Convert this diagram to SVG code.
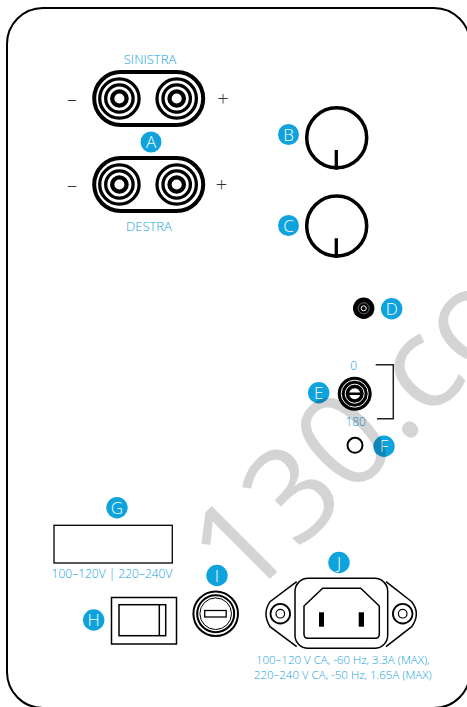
<svg xmlns="http://www.w3.org/2000/svg" width="467" height="707" viewBox="0 0 467 707">
<style>
text{font-family:"Open Sans","Noto Sans","Liberation Sans",sans-serif}
.lbl{fill:#14a2e2;font-size:12px;font-weight:300;text-anchor:middle}
.cap{font-size:13px}
.ac{font-size:11.500px}
.sign{fill:#333;font-size:20px;font-weight:300;text-anchor:middle}
.bd{fill:#0fa3de}
.bt{fill:#fff;font-size:17px;font-weight:300;text-anchor:middle}
.k{fill:none;stroke:#000}
</style>
<defs>
<g id="post">
<circle r="19.700" fill="#fff" stroke="#000" stroke-width="3.300"/>
<circle r="13.700" class="k" stroke-width="3.300"/>
<circle r="7.200" class="k" stroke-width="4.300"/>
</g>
<g id="pair">
<rect x="-54.500" y="-26.500" width="109" height="53" rx="26.500" fill="#fff" stroke="#000" stroke-width="4"/>
<use href="#post" x="-29.300"/>
<use href="#post" x="28"/>
</g>
<g id="knob">
<circle r="30" fill="#fff" stroke="#000" stroke-width="3.500"/>
<path d="M-.4 12.300V32" class="k" stroke-width="3.300"/>
</g>
</defs>
<rect id="frame" x="7" y="8" width="463" height="700" rx="36" fill="#fff" stroke="#000" stroke-width="2"/>
<g id="A">
<use href="#pair" x="148.700" y="98.500"/>
<use href="#pair" x="148.700" y="184.500"/>
<circle class="bd" cx="151" cy="142" r="10.500"/><text class="bt" x="151" y="148">A</text>
<text class="lbl cap" x="150" y="63.500">SINISTRA</text>
<text class="lbl cap" x="149" y="231">DESTRA</text>
<text class="sign" x="72" y="105.500">–</text><text class="sign" x="223" y="105.500">+</text>
<text class="sign" x="72" y="191.500">–</text><text class="sign" x="221.500" y="191.500">+</text>
</g>
<g id="B"><use href="#knob" x="336.700" y="137.700"/><circle class="bd" cx="288.500" cy="134.500" r="10.500"/><text class="bt" x="288.500" y="140.500">B</text></g>
<g id="C"><use href="#knob" x="336.700" y="226"/><circle class="bd" cx="288.500" cy="225.500" r="10.500"/><text class="bt" x="288.500" y="231.500">C</text></g>
<g id="D">
<circle cx="363.700" cy="308.300" r="10.700" fill="#000"/>
<circle cx="363.700" cy="308.300" r="5.500" fill="none" stroke="#999" stroke-width=".7"/>
<circle cx="363.700" cy="308.300" r="2.500" fill="#000" stroke="#fff" stroke-width="1"/>
<circle class="bd" cx="391.700" cy="308.700" r="10.700"/><text class="bt" x="391.700" y="314.700">D</text>
</g>
<g id="E">
<circle cx="354.700" cy="393.700" r="17" fill="#000"/>
<circle cx="354.700" cy="393.700" r="13.500" fill="none" stroke="#fff" stroke-width="1"/>
<circle cx="354.700" cy="393.700" r="9.500" fill="none" stroke="#fff" stroke-width="1"/>
<circle cx="354.700" cy="393.700" r="5.500" fill="#fff"/>
<rect x="349" y="392.500" width="11.400" height="2.500" fill="#000"/>
<circle class="bd" cx="318.700" cy="392.700" r="10.700"/><text class="bt" x="318.700" y="398.700">E</text>
<text class="lbl" x="353.700" y="370">0</text>
<text class="lbl" x="355.700" y="425.500">180</text>
<path d="M375.700 364.700H393.300V418.700H377" fill="none" stroke="#222" stroke-width="1.500"/>
</g>
<g id="F">
<circle cx="355" cy="445.300" r="7.500" fill="#fff" stroke="#000" stroke-width="2"/>
<circle class="bd" cx="384" cy="446.300" r="10.700"/><text class="bt" x="384" y="452.300">F</text>
</g>
<g id="G">
<rect x="54" y="525.300" width="118.300" height="37.700" fill="#fff" stroke="#000" stroke-width="1.300"/>
<circle class="bd" cx="117" cy="507.700" r="10.700"/><text class="bt" x="117" y="513.700">G</text>
<text class="lbl" x="112" y="578">100–120V | 220–240V</text>
</g>
<g id="H">
<rect x="111.500" y="597.500" width="65" height="46.500" fill="#fff" stroke="#000" stroke-width="1.500"/>
<rect x="119" y="604.700" width="46.700" height="31" fill="none" stroke="#000" stroke-width="1.500"/>
<path d="M159.300 604.700V635.700" class="k" stroke-width="1.500"/>
<circle class="bd" cx="93.700" cy="620" r="10.700"/><text class="bt" x="93.700" y="626">H</text>
</g>
<g id="I">
<circle cx="215.700" cy="613.700" r="22.300" fill="#fff" stroke="#000" stroke-width="2"/>
<circle cx="215.700" cy="613.700" r="18.500" fill="none" stroke="#000" stroke-width="2"/>
<circle cx="215.700" cy="613.700" r="15.800" fill="none" stroke="#000" stroke-width="1"/>
<rect x="204.700" y="610.500" width="21.500" height="6.500" fill="#fff" stroke="#000" stroke-width="1.300"/>
<circle class="bd" cx="217" cy="575.500" r="10.700"/><text class="bt" x="217" y="581.500">I</text>
</g>
<g id="J">
<path d="M296.700 581.700L270 601.700Q262 613.700 270 626.700L296.700 646.700M386 581.700L411.700 601.700Q421 613.700 411.700 626.700L386 646.700" fill="#fff" stroke="#000" stroke-width="1.500"/>
<rect x="295" y="578.300" width="92.700" height="70" rx="13" fill="#fff" stroke="#000" stroke-width="1.500"/>
<path d="M322.700 588.300H360.700L379.300 606V634.300Q379.300 638.300 375.300 638.300H308Q304 638.300 304 634.300V606Z" fill="#fff" stroke="#000" stroke-width="1.500"/>
<rect x="319" y="612.300" width="5" height="14.400" fill="#000"/>
<rect x="358.700" y="612.300" width="5.300" height="14.400" fill="#000"/>
<circle cx="280.300" cy="613.700" r="9.800" fill="#fff" stroke="#000" stroke-width="1.800"/>
<circle cx="280.300" cy="613.700" r="4.300" fill="#fff" stroke="#000" stroke-width="1.200"/>
<circle cx="402.700" cy="613.700" r="9.800" fill="#fff" stroke="#000" stroke-width="1.800"/>
<circle cx="402.700" cy="613.700" r="4.300" fill="#fff" stroke="#000" stroke-width="1.200"/>
<circle class="bd" cx="339" cy="562.500" r="10.700"/><text class="bt" x="339" y="568.500">J</text>
<text class="lbl ac" x="342.700" y="663.500">100–120 V CA, -60 Hz, 3.3A (MAX),</text>
<text class="lbl ac" x="342.700" y="678.500">220–240 V CA, -50 Hz, 1.65A (MAX)</text>
</g>
<text id="watermark" transform="translate(245 604) rotate(-45)" style="font-size:130px;font-weight:500" fill="#000" fill-opacity=".17">130.co</text>
</svg>
